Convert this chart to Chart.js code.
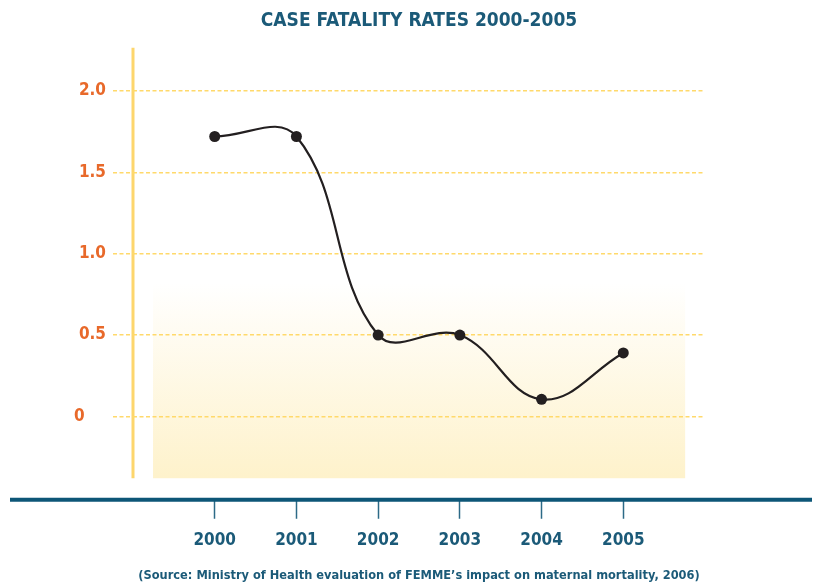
<!DOCTYPE html>
<html>
<head>
<meta charset="utf-8">
<script src="https://cdn.jsdelivr.net/npm/chart.js@4.4.1/dist/chart.umd.min.js"></script>
<style>
  html, body { margin: 0; padding: 0; background: #fff; }
</style>
</head>
<body>
<canvas id="cfrChart" width="814" height="584"></canvas>
<script>
// data
const years = [2000, 2001, 2002, 2003, 2004, 2005];
const fatalityRates = [1.72, 1.72, 0.5, 0.5, 0.105, 0.39];
const yTicks = [0, 0.5, 1.0, 1.5, 2.0];

const narrow = "'Liberation Sans Narrow', 'DejaVu Sans Condensed', sans-serif";
const teal = '#1B5A78';

// background box, yellow axis line and the long teal base line
const decorPlugin = {
    id: 'decor',
    beforeDraw(chart) {
        const ctx = chart.ctx;
        const x = chart.scales.x;
        const y = chart.scales.y;
        const left = x.getPixelForValue(1999.245);
        const right = x.getPixelForValue(2005.757);
        const top = y.getPixelForValue(0.82);
        const bottom = y.getPixelForValue(-0.38);
        ctx.save();
        const grad = ctx.createLinearGradient(0, top, 0, bottom);
        grad.addColorStop(0, 'rgba(255,255,255,1)');
        grad.addColorStop(1, '#FEF2CB');
        ctx.fillStyle = grad;
        ctx.fillRect(left, top, right - left, bottom - top);

        ctx.strokeStyle = '#FDD66C';
        ctx.lineWidth = 3;
        ctx.beginPath();
        ctx.moveTo(chart.chartArea.left, chart.chartArea.top);
        ctx.lineTo(chart.chartArea.left, bottom);
        ctx.stroke();
        ctx.restore();
    },
    afterDraw(chart) {
        const ctx = chart.ctx;
        const yLine = chart.chartArea.bottom + 2;
        ctx.save();
        ctx.strokeStyle = '#0D5677';
        ctx.lineWidth = 4;
        ctx.beginPath();
        ctx.moveTo(10, yLine);
        ctx.lineTo(812, yLine);
        ctx.stroke();
        ctx.restore();
    }
};

const ctx = document.getElementById('cfrChart').getContext('2d');

const cfrChart = new Chart(ctx, {
    type: 'line',
    data: {
        datasets: [{
            label: 'Case fatality rate',
            data: years.map((yr, i) => ({ x: yr, y: fatalityRates[i] })),
            borderColor: '#231F20',
            borderWidth: 2.2,
            backgroundColor: '#231F20',
            pointRadius: 5.5,
            pointBackgroundColor: '#231F20',
            pointBorderWidth: 0,
            tension: 0.4,
            fill: false
        }]
    },
    options: {
        responsive: false,
        animation: false,
        layout: { padding: { left: 24, right: 0, top: 0, bottom: 0 } },
        plugins: {
            legend: { display: false },
            tooltip: { enabled: false },
            title: {
                display: true,
                text: 'CASE FATALITY RATES 2000-2005',
                color: teal,
                font: { family: narrow, size: 19, weight: 'bold' },
                padding: { top: 10, bottom: 15 }
            },
            subtitle: {
                display: true,
                position: 'bottom',
                text: '(Source: Ministry of Health evaluation of FEMME\u2019s impact on maternal mortality, 2006)',
                color: teal,
                font: { family: narrow, size: 12.7, weight: 'bold' },
                padding: { top: 0, bottom: 1 }
            }
        },
        scales: {
            x: {
                type: 'linear',
                min: 1999,
                max: 2006,
                afterBuildTicks: s => { s.ticks = years.map(v => ({ value: v })); },
                afterFit: s => { s.height = 70; },
                border: { display: false },
                grid: {
                    drawOnChartArea: false,
                    drawTicks: true,
                    tickLength: 21,
                    tickColor: '#2C6A87',
                    tickWidth: 1.5
                },
                ticks: {
                    color: teal,
                    font: { family: narrow, size: 17, weight: 'bold' },
                    padding: 12,
                    maxRotation: 0,
                    autoSkip: false,
                    callback: v => String(v)
                }
            },
            y: {
                min: -0.5,
                max: 2.265,
                afterBuildTicks: s => { s.ticks = yTicks.map(v => ({ value: v })); },
                afterFit: s => { s.width = 109; },
                border: { display: false, dash: [4, 2.5] },
                grid: {
                    color: '#FFD96B',
                    lineWidth: 1.5,
                    tickLength: 20,
                    tickColor: '#FFD96B',
                    tickBorderDash: [4, 2.5]
                },
                ticks: {
                    color: '#E8692A',
                    font: { family: narrow, size: 17, weight: 'bold' },
                    padding: 7,
                    // the zero label sits further left in the original
                    callback: v => (v === 0 ? '0\u2007\u2007' : v.toFixed(1))
                }
            },
            yr: {
                type: 'linear',
                position: 'right',
                afterFit: s => { s.width = 109; },
                grid: { display: false },
                border: { display: false },
                ticks: { display: false }
            }
        }
    },
    plugins: [decorPlugin]
});
</script>
</body>
</html>
